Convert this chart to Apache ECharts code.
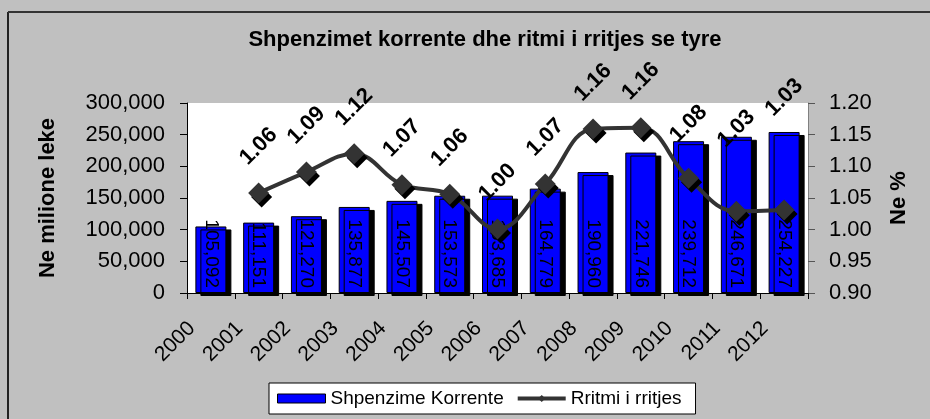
<!DOCTYPE html>
<html>
<head>
<meta charset="utf-8">
<script src="https://cdn.jsdelivr.net/npm/echarts@6/dist/echarts.min.js"></script>
<style>
  html, body { margin: 0; padding: 0; background: #c0c0c0; }
  #chart { width: 930px; height: 419px; }
</style>
</head>
<body>
<div id="chart"></div>
<script>
// te dhenat
var years = ['2000', '2001', '2002', '2003', '2004', '2005', '2006', '2007', '2008', '2009', '2010', '2011', '2012']
var shpenzime = [105092, 111151, 121270, 135877, 145507, 153573, 153685, 164779, 190960, 221746, 239712, 246671, 254227]
// ritmi i rritjes (2000 pa vlere)
var ritmi = [null, 1.058, 1.091, 1.120, 1.071, 1.056, 1.001, 1.072, 1.159, 1.161, 1.081, 1.029, 1.031]
var leftTicks = [0, 300000, 50000]
var rightTicks = [0.9, 1.2, 0.05]

var font = 'Liberation Sans, Arial, sans-serif'
// disa etiketa jane zhvendosur me lart ne grafikun origjinal
var labelLift = { 10: 8, 11: 36, 12: 66 }

// offset-i llogaritet ne koordinatat e etiketes se rrotulluar (45 grade)
var ritmiData = ritmi.map(function (v, i) {
  var item = { value: v }
  if (labelLift[i]) {
    var d = labelLift[i] * Math.SQRT1_2
    item.label = { offset: [d, -d] }
  }
  return item
})

var chartDom = document.getElementById('chart')
var myChart = echarts.init(chartDom)
var option

option = {
  backgroundColor: '#c0c0c0',
  textStyle: { fontFamily: font, color: '#000' },
  animation: false,
  title: {
    text: 'Shpenzimet korrente dhe ritmi i rritjes se tyre',
    left: 480,
    top: 24,
    textAlign: 'center',
    textStyle: { fontFamily: font, fontSize: 22, fontWeight: 'bold', color: '#000' }
  },
  graphic: [
    { type: 'line', shape: { x1: 8, y1: 12, x2: 8, y2: 419 }, style: { stroke: '#222', lineWidth: 2 } },
    { type: 'line', shape: { x1: 8, y1: 12, x2: 930, y2: 12 }, style: { stroke: '#333', lineWidth: 2 } }
  ],
  legend: {
    left: 269,
    top: 383,
    padding: [6, 14, 6, 8],
    itemGap: 12,
    itemWidth: 48,
    itemHeight: 9,
    backgroundColor: '#fff',
    borderColor: '#000',
    borderWidth: 1,
    borderRadius: 0,
    textStyle: { fontFamily: font, fontSize: 19, color: '#000' },
    data: [
      { name: 'Shpenzime Korrente', icon: 'rect', itemStyle: { borderColor: '#000', borderWidth: 1 } },
      {
        name: 'Rritmi i rritjes',
        lineStyle: { color: '#333', width: 4 },
        itemStyle: { color: '#333', shadowBlur: 0, shadowOffsetX: 0, shadowOffsetY: 0 }
      }
    ]
  },
  grid: {
    left: 187,
    right: 122,
    top: 103,
    bottom: 126,
    show: true,
    backgroundColor: '#fff',
    borderWidth: 0
  },
  xAxis: {
    type: 'category',
    data: years,
    axisLine: { lineStyle: { color: '#000', width: 1 } },
    axisTick: { show: true, length: 6, lineStyle: { color: '#000' } },
    axisLabel: {
      rotate: 45,
      interval: 0,
      margin: 13,
      padding: [0, 27, 0, 0],
      fontSize: 21,
      fontFamily: font,
      color: '#000'
    }
  },
  yAxis: [
    {
      type: 'value',
      min: leftTicks[0],
      max: leftTicks[1],
      interval: leftTicks[2],
      name: 'Ne milione leke',
      nameLocation: 'middle',
      nameGap: 128,
      nameTextStyle: { fontFamily: font, fontSize: 22, fontWeight: 'bold', color: '#000' },
      axisLine: { show: true, lineStyle: { color: '#000' } },
      axisTick: { show: true, length: 7, lineStyle: { color: '#000' } },
      splitLine: { show: false },
      axisLabel: {
        margin: 22,
        fontSize: 22,
        fontFamily: font,
        color: '#000',
        formatter: function (v) { return v.toLocaleString('en-US') }
      }
    },
    {
      type: 'value',
      position: 'right',
      min: rightTicks[0],
      max: rightTicks[1],
      interval: rightTicks[2],
      name: 'Ne %',
      nameLocation: 'middle',
      nameGap: 80,
      nameTextStyle: { fontFamily: font, fontSize: 22, fontWeight: 'bold', color: '#000' },
      axisLine: { show: true, lineStyle: { color: '#808080' } },
      axisTick: { show: true, length: 7, lineStyle: { color: '#555' } },
      splitLine: { show: false },
      axisLabel: {
        margin: 21,
        fontSize: 22,
        fontFamily: font,
        color: '#000',
        formatter: function (v) { return v.toFixed(2) }
      }
    }
  ],
  series: [
    {
      name: 'Shpenzime Korrente',
      type: 'bar',
      yAxisIndex: 0,
      barWidth: 31,
      data: shpenzime,
      itemStyle: {
        color: '#0000ff',
        borderColor: '#000',
        borderWidth: 1,
        shadowColor: '#000',
        shadowBlur: 0,
        shadowOffsetX: 5,
        shadowOffsetY: 3
      },
      label: {
        show: true,
        position: 'insideBottom',
        rotate: -90,
        align: 'right',
        verticalAlign: 'middle',
        distance: 5,
        fontSize: 19,
        fontFamily: font,
        color: '#000',
        formatter: function (p) { return p.value.toLocaleString('en-US') }
      }
    },
    {
      name: 'Rritmi i rritjes',
      type: 'line',
      yAxisIndex: 1,
      data: ritmiData,
      smooth: 0.4,
      symbol: 'diamond',
      symbolSize: 21,
      lineStyle: { color: '#333', width: 4 },
      itemStyle: {
        color: '#333',
        shadowColor: '#000',
        shadowBlur: 0,
        shadowOffsetX: 3,
        shadowOffsetY: 4
      },
      label: {
        show: true,
        position: 'top',
        distance: 36,
        rotate: 45,
        align: 'center',
        verticalAlign: 'middle',
        fontSize: 22,
        fontWeight: 'bold',
        fontFamily: font,
        color: '#000',
        formatter: function (p) { return p.value.toFixed(2) }
      },
      z: 5
    }
  ]
}

option && myChart.setOption(option)
</script>
</body>
</html>
